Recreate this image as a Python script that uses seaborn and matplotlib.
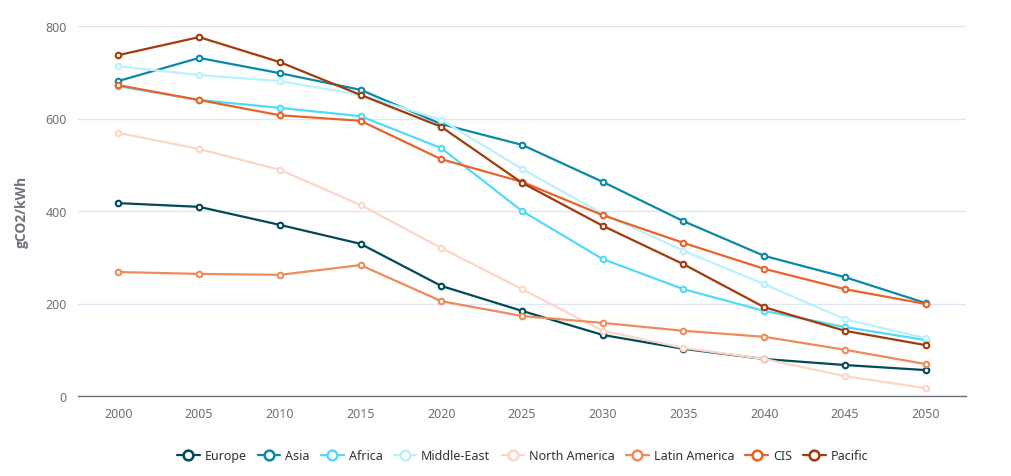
import matplotlib
matplotlib.use("Agg")
import matplotlib.pyplot as plt
from matplotlib.lines import Line2D
import seaborn as sns
import pandas as pd

years = ["2000", "2005", "2010", "2015", "2020", "2025", "2030", "2035", "2040", "2045", "2050"]

europe = [417, 409, 370, 329, 238, 184, 132, 102, 80, 67, 56]
asia = [681, 731, 698, 662, 588, 543, 463, 378, 303, 257, 201]
africa = [670, 640, 623, 605, 536, 400, 296, 231, 184, 149, 121]
middle_east = [713, 694, 681, 651, 597, 491, 394, 314, 242, 166, 125]
north_america = [569, 534, 489, 413, 320, 231, 141, 104, 80, 43, 17]
latin_america = [268, 264, 262, 283, 205, 173, 158, 141, 128, 100, 69]
cis = [672, 640, 607, 595, 512, 463, 391, 331, 275, 231, 199]
pacific = [737, 776, 722, 651, 582, 461, 368, 285, 192, 141, 110]

regions = ["Europe", "Asia", "Africa", "Middle-East", "North America",
           "Latin America", "CIS", "Pacific"]
series = [europe, asia, africa, middle_east, north_america, latin_america, cis, pacific]
colors = ["#004a59", "#0a89a7", "#52dbf8", "#b9f2fc", "#fcd6c6",
          "#f08a5b", "#ea6228", "#a23b0c"]

rows = []
for name, vals in zip(regions, series):
    for i, (yr, v) in enumerate(zip(years, vals)):
        rows.append({"region": name, "pos": i, "year": yr, "value": v})
df = pd.DataFrame(rows)

sns.set_style("white")
plt.rcParams["font.family"] = ["Noto Sans", "DejaVu Sans"]

fig = plt.figure(figsize=(10.11, 4.77), dpi=100)
ax = fig.add_axes([78 / 1011, 1 - 397 / 477, (966 - 78) / 1011, 370 / 477])

grey = "#6e7079"
sns.lineplot(data=df, x="pos", y="value", hue="region", hue_order=regions,
             palette=colors, marker="o", markersize=4, markerfacecolor="white",
             markeredgewidth=1.5, linewidth=1.6, legend=False, ax=ax,
             zorder=3)
for ln, c in zip(ax.lines, colors):
    ln.set_markeredgecolor(c)

ax.set_xlim(-0.5, len(years) - 0.5)
ax.set_ylim(0, 800)
ax.set_yticks([0, 200, 400, 600, 800])
ax.set_xticks(range(len(years)))
ax.set_xticklabels(years)
ax.set_xticks([i - 0.5 for i in range(len(years) + 1)], minor=True)
ax.tick_params(axis="x", which="major", length=0, pad=8, labelsize=9, colors=grey)
ax.tick_params(axis="x", which="minor", length=5, width=1, color=grey, direction="out")
ax.tick_params(axis="y", length=0, pad=8, labelsize=9, colors=grey)
ax.grid(axis="y", color="#e0e6f1", linewidth=1)
ax.set_axisbelow(True)
for s in ["top", "right", "left"]:
    ax.spines[s].set_visible(False)
ax.spines["bottom"].set_color(grey)
ax.spines["bottom"].set_linewidth(1)
ax.set_xlabel("")
ax.set_ylabel("gCO2/kWh", fontsize=10, fontweight="bold", color=grey, labelpad=12,
              family=["Open Sans", "DejaVu Sans"])

handles = [Line2D([0], [0], color=c, linewidth=1.6, marker="o", markersize=7,
                  markerfacecolor="white", markeredgecolor=c, markeredgewidth=1.8)
           for c in colors]
fig.legend(handles, regions, loc="center", bbox_to_anchor=(0.517, 1 - 457 / 477),
           ncol=8, frameon=False, fontsize=9, handlelength=1.8, handletextpad=0.4,
           columnspacing=0.9, labelcolor="#333333")

fig.savefig("out.png", dpi=100)
